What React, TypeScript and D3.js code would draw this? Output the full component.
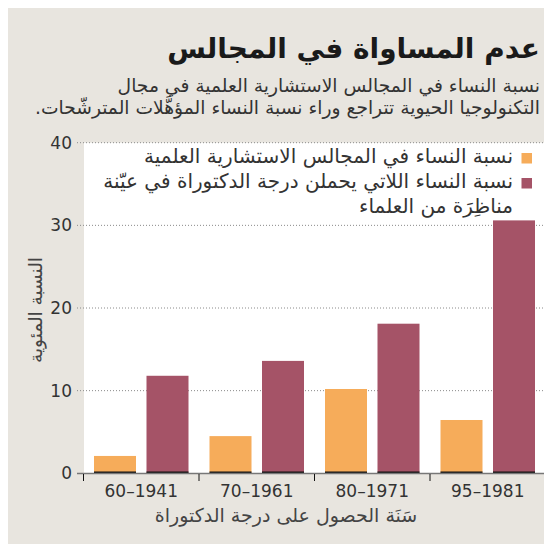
import React from "react";
import * as d3 from "d3";

const categories = ["60–1941", "70–1961", "80–1971", "95–1981"];
const seriesKeys = ["council", "phd"];
const councilValues = [2.1, 4.5, 10.2, 6.45];
const phdValues = [11.8, 13.6, 18.1, 30.6];
const yTicks = [0, 10, 20, 30, 40];
const legendLabels = [
  ["نسبة النساء في المجالس الاستشارية العلمية"],
  ["نسبة النساء اللاتي يحملن درجة الدكتوراة في عيّنة", "مناظِرَة من العلماء"],
];
const title = "عدم المساواة في المجالس";
const subtitleLines = [
  "نسبة النساء في المجالس الاستشارية العلمية في مجال",
  "التكنولوجيا الحيوية تتراجع وراء نسبة النساء المؤهَّلات المترشّحات.",
];
const yAxisTitle = "النسبة المئوية";
const xAxisTitle = "سَنَة الحصول على درجة الدكتوراة";

const COLORS = { council: "#F6AC5A", phd: "#A55367" };
const BG = "#E8E5DF";
const FONT = "'DejaVu Sans', sans-serif";

export default function App() {
  const W = 544;
  const H = 537;
  const x0 = d3.scaleBand<string>().domain(categories).range([83.5, 545.5]).padding(0);
  const x1 = d3
    .scaleBand<string>()
    .domain(seriesKeys)
    .range([0, x0.bandwidth()])
    .paddingInner(0.2)
    .paddingOuter(0.2);
  const y = d3.scaleLinear().domain([0, 40]).range([473.3, 142.7]);
  const data = categories.map((c, i) => ({ c, council: councilValues[i], phd: phdValues[i] }));

  return (
    <svg width={W} height={H} style={{ display: "block" }} fontFamily={FONT}>
      <g transform="translate(-8,-8)">
        <rect x={8} y={7} width={W} height={H + 1} fill={BG} />
        <rect x={84} y={y(40)} width={462} height={y(0) - y(40)} fill="#fff" />
        {/* title */}
        <text x={540} y={58} textAnchor="end" fontSize={28} fontWeight="bold" fill="#1a1a1a">
          {title}
        </text>
        {subtitleLines.map((l, i) => (
          <text key={i} x={540} y={92 + i * 21.5} textAnchor="end" fontSize={18.7} fill="#333">
            {i === 1 ? l + "\u200F" : l}
          </text>
        ))}
        {/* gridlines */}
        {yTicks.map((t) => (
          <g key={t}>
            {t > 0 && (
              <line x1={77} x2={546} y1={y(t)} y2={y(t)} stroke="#8a8a8a" strokeWidth={1} strokeDasharray="1,2" />
            )}
            <text x={72} y={y(t)} dy="0.35em" textAnchor="end" fontSize={17} fill="#333">
              {t}
            </text>
          </g>
        ))}
        {/* bars */}
        {data.map((d) => (
          <g key={d.c} transform={`translate(${x0(d.c)},0)`}>
            {seriesKeys.map((k) => {
              const v = (d as any)[k] as number;
              return (
                <g key={k}>
                  <rect x={x1(k)} y={y(v)} width={x1.bandwidth()} height={y(0) - y(v)} fill={(COLORS as any)[k]} />
                  <rect x={x1(k)} y={y(0) - 1.8} width={x1.bandwidth()} height={2} fill="#111" />
                </g>
              );
            })}
          </g>
        ))}
        {/* axis */}
        <line x1={77} x2={546} y1={473.5} y2={473.5} stroke="#777" strokeWidth={1.6} />
        {[...categories.map((c) => x0(c) as number), 545.5].map((v, i) => (
          <line key={i} x1={v} x2={v} y1={474} y2={481} stroke="#111" strokeWidth={1} />
        ))}
        {categories.map((c) => (
          <text key={c} x={(x0(c) as number) + x0.bandwidth() / 2} y={497} textAnchor="middle" fontSize={17} fill="#333">
            {c}
          </text>
        ))}
        <text x={286} y={522} textAnchor="middle" fontSize={19} fill="#444">
          {xAxisTitle}
        </text>
        <text transform={`translate(42,310) rotate(-90)`} textAnchor="middle" fontSize={18.5} fill="#444">
          {yAxisTitle}
        </text>
        {/* legend */}
        {legendLabels.map((lines, i) => {
          const top = 153 + i * 25;
          return (
            <g key={i}>
              <rect x={521.5} y={top} width={10.5} height={10.5} fill={(COLORS as any)[seriesKeys[i]]} />
              {lines.map((l, j) => (
                <text key={j} x={513} y={163 + i * 25 + j * 25} textAnchor="end" fontSize={20} fill="#333">
                  {l}
                </text>
              ))}
            </g>
          );
        })}
      </g>
    </svg>
  );
}
